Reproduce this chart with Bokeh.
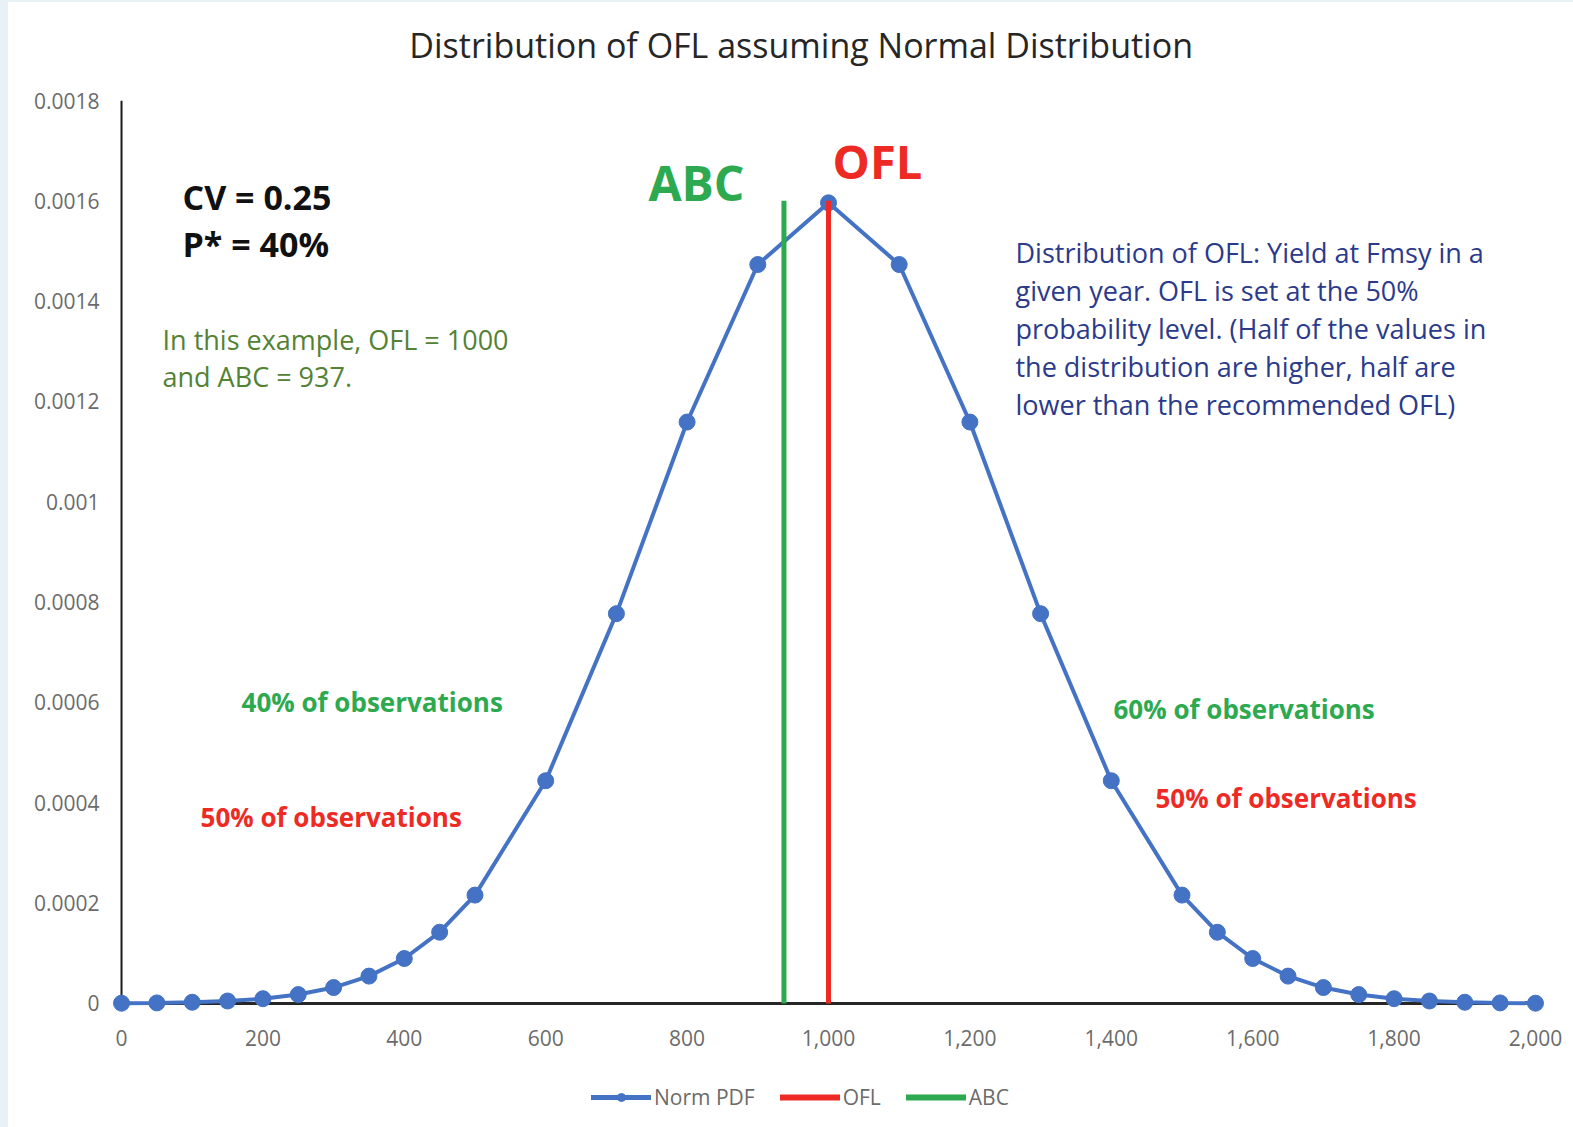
from bokeh.plotting import figure
from bokeh.models import Range1d, FixedTicker, Label, Legend, LegendItem
from bokeh.layouts import column
from bokeh.embed import file_html
from bokeh.resources import INLINE

# ---- data ----
x_values = [0, 50, 100, 150, 200, 250, 300, 350, 400, 450, 500,
            600, 700, 800, 900, 1000, 1100, 1200, 1300, 1400,
            1500, 1550, 1600, 1650, 1700, 1750, 1800, 1850, 1900, 1950, 2000]
pdf_values = [0.0000005, 0.0000011, 0.0000024, 0.0000049, 0.0000095, 0.0000177,
              0.0000317, 0.0000545, 0.0000896, 0.000142, 0.000216,
              0.000444, 0.000777, 0.001159, 0.001473, 0.001596, 0.001473,
              0.001159, 0.000777, 0.000444,
              0.000216, 0.000142, 0.0000896, 0.0000545, 0.0000317, 0.0000177,
              0.0000095, 0.0000049, 0.0000024, 0.0000011, 0.0000005]
ofl_x = [1000, 1000]
ofl_y = [0, 0.0016]
abc_x = [937, 937]
abc_y = [0, 0.0016]

x_ticks = [0, 200, 400, 600, 800, 1000, 1200, 1400, 1600, 1800, 2000]
x_tick_labels = ["0", "200", "400", "600", "800", "1,000", "1,200", "1,400", "1,600", "1,800", "2,000"]
y_ticks = [0, 0.0002, 0.0004, 0.0006, 0.0008, 0.001, 0.0012, 0.0014, 0.0016, 0.0018]
y_tick_labels = ["0", "0.0002", "0.0004", "0.0006", "0.0008", "0.001", "0.0012", "0.0014", "0.0016", "0.0018"]
legend_labels = ["Norm PDF", "OFL", "ABC"]
title_text = "Distribution of OFL assuming Normal Distribution"

FONT = "Open Sans"
BLUE = "#4472C4"
RED = "#EE2A24"
GREEN = "#2DA94F"
DKGREEN = "#548235"
NAVY = "#2B3A8A"


def blank(fig):
    fig.outline_line_color = None
    fig.xgrid.visible = False
    fig.ygrid.visible = False
    fig.background_fill_color = "white"
    fig.border_fill_color = "white"


# ---- title strip ----
tf = figure(width=1565, height=78, output_backend="svg", toolbar_location=None,
            x_range=Range1d(0, 1), y_range=Range1d(0, 1),
            min_border=0, x_axis_location=None, y_axis_location=None)
blank(tf)
tf.add_layout(Label(x=0.481, y=0.45, text=title_text, text_font=FONT, text_font_size="34px",
                    text_color="#262626", text_align="center", text_baseline="middle"))

# ---- main chart ----
p = figure(width=1565, height=989, output_backend="svg", toolbar_location=None,
           x_range=Range1d(-17, 2017), y_range=Range1d(-0.000024, 0.0018),
           min_border_left=101, min_border_right=26, min_border_top=20, min_border_bottom=54)
blank(p)

for ax in (p.xaxis[0], p.yaxis[0]):
    ax.axis_line_color = None
    ax.major_tick_line_color = None
    ax.minor_tick_line_color = None
    ax.major_label_text_font = FONT
    ax.major_label_text_font_size = "21px"
    ax.major_label_text_color = "#6b6b6b"

p.xaxis[0].ticker = FixedTicker(ticks=x_ticks)
p.xaxis[0].major_label_overrides = dict(zip(x_ticks, x_tick_labels))
p.xaxis[0].major_label_standoff = 8

p.yaxis[0].ticker = FixedTicker(ticks=y_ticks)
p.yaxis[0].major_label_overrides = dict(zip(y_ticks, y_tick_labels))
p.yaxis[0].major_label_standoff = 4

# axis lines along the tick extents
p.segment(x0=[x_ticks[0]], y0=[y_ticks[0]], x1=[x_ticks[-1]], y1=[y_ticks[0]],
          line_color="#262626", line_width=3)
p.segment(x0=[x_ticks[0]], y0=[y_ticks[0]], x1=[x_ticks[0]], y1=[y_ticks[-1]],
          line_color="#1a1a1a", line_width=2)

p.line(x_values, pdf_values, line_color=BLUE, line_width=4)
p.scatter(x_values, pdf_values, size=16, fill_color=BLUE, line_color=BLUE)
p.line(ofl_x, ofl_y, line_color=RED, line_width=5)
p.line(abc_x, abc_y, line_color=GREEN, line_width=5)


# ---- annotations (pixel positions of reference converted to data) ----
def X(px):
    return (px - 121) / 0.707


def Y(py):
    return (1003 - py) * 0.0018 / 903


def lab(text, px, py, size, color, bold=False):
    p.add_layout(Label(x=X(px), y=Y(py), text=text, text_font=FONT, text_font_size=size,
                       text_color=color, text_font_style="bold" if bold else "normal",
                       text_baseline="middle", text_align="left"))


lab("CV = 0.25", 182, 197, "34px", "#111111", True)
lab("P* = 40%", 182, 244, "34px", "#111111", True)
lab("In this example, OFL = 1000", 162, 339, "27px", DKGREEN)
lab("and ABC = 937.", 162, 376, "27px", DKGREEN)
lab("ABC", 648, 182, "48px", GREEN, True)
lab("OFL", 832, 161, "47px", RED, True)
right_lines = ["Distribution of  OFL: Yield at Fmsy in a",
               "given year. OFL is set at the 50%",
               "probability level. (Half of the values in",
               "the distribution are higher, half are",
               "lower than the recommended OFL)"]
for i, t in enumerate(right_lines):
    lab(t, 1015, 252 + 38 * i, "27px", NAVY)
lab("40% of observations", 241, 702, "26px", GREEN, True)
lab("50% of observations", 200, 817, "26px", RED, True)
lab("60% of observations", 1113, 709, "26px", GREEN, True)
lab("50% of observations", 1155, 798, "26px", RED, True)

# ---- legend strip below the chart (same series, drawn out of view; only the key shows) ----
lg = figure(width=1565, height=58, output_backend="svg", toolbar_location=None,
            x_range=Range1d(0, 1), y_range=Range1d(1, 2),
            min_border=0, x_axis_location=None, y_axis_location=None)
blank(lg)
k_line = lg.line(x_values, pdf_values, line_color=BLUE, line_width=5, line_cap="round")
k_pts = lg.scatter(x_values, pdf_values, size=15, fill_color=BLUE, line_color=BLUE)
k_ofl = lg.line(ofl_x, ofl_y, line_color=RED, line_width=6, line_cap="round")
k_abc = lg.line(abc_x, abc_y, line_color=GREEN, line_width=6, line_cap="round")
legend = Legend(items=[LegendItem(label=legend_labels[0], renderers=[k_line, k_pts]),
                       LegendItem(label=legend_labels[1], renderers=[k_ofl]),
                       LegendItem(label=legend_labels[2], renderers=[k_abc])],
                orientation="horizontal", location=(482, 16),
                glyph_width=60, glyph_height=20, label_standoff=3, spacing=25,
                label_text_font=FONT, label_text_font_size="21px", label_text_color="#6b6b6b",
                border_line_color=None, background_fill_alpha=0, margin=0, padding=0)
lg.add_layout(legend)

layout = column(tf, p, lg, spacing=0)

html = file_html(layout, INLINE)
css = ("<style>html{background:#ffffff;} "
       "body{background:#ffffff; margin:0 !important; "
       "border-left:8px solid #e8f1f5; border-top:2px solid #e8f1f5;}</style></head>")
html = html.replace("</head>", css, 1)
open("out.html", "w").write(html)
